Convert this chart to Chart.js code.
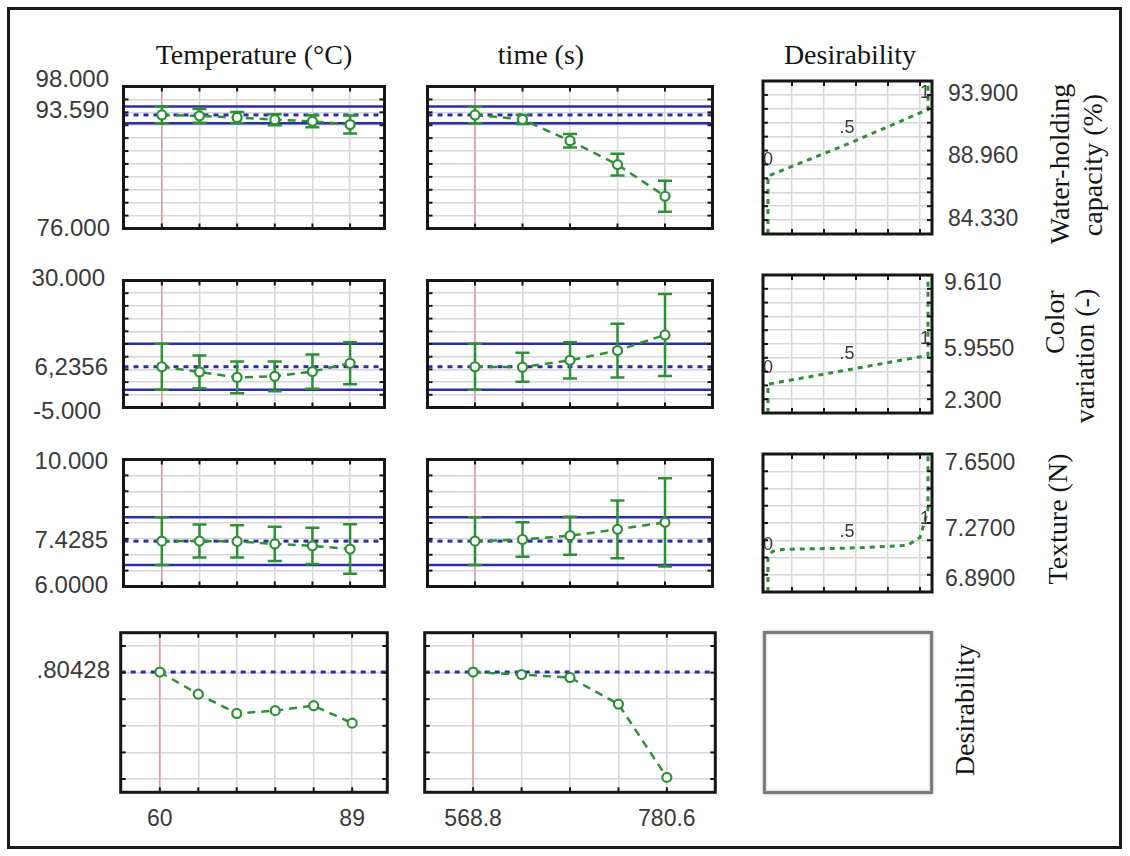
<!DOCTYPE html>
<html>
<head>
<meta charset="utf-8">
<title>Desirability profiles</title>
<script src="https://cdn.jsdelivr.net/npm/chart.js@4.4.1/dist/chart.umd.min.js"></script>
<style>
  html, body { margin: 0; padding: 0; background: #fff; }
  body { position: relative; width: 1130px; height: 856px; overflow: hidden; font-family: "Liberation Sans", Arial, sans-serif; }
  #frame { position: absolute; left: 7px; top: 7px; width: 1109px; height: 836px; border: 3px solid #1a1a1a; }
  canvas { position: absolute; }
  .t { position: absolute; white-space: nowrap; line-height: 1; }
  .tick { font-size: 24px; color: #3a3a3a; }
  .spec { font-size: 23px; color: #3a3a3a; }
  .head { font-family: "Liberation Serif", "Times New Roman", serif; font-size: 28px; color: #151515; }
  .blank { position: absolute; box-sizing: border-box; border: 3px solid #7c7c7c; box-shadow: 0 0 3px #aaa, inset 0 0 3px #bbb; }
</style>
</head>
<body>
<div id="frame"></div>
<script>
// factor levels (x categories)
const tempLevels = [60, 65.8, 71.6, 77.4, 83.2, 89];
const timeLevels = [568.8, 621.75, 674.7, 727.65, 780.6];
const tempCurrent = 60;
const timeCurrent = 568.8;
const tempTickLabels = ['60', '89'];
const timeTickLabels = ['568.8', '780.6'];
const columnTitles = ['Temperature (°C)', 'time (s)', 'Desirability'];

// water-holding capacity (%)
const whcTemp = [93.59, 93.45, 93.2, 92.86, 92.6, 92.1];
const whcTempErr = [1.3, 1.05, 0.86, 0.86, 0.93, 1.4];
const whcTime = [93.59, 92.9, 89.6, 85.9, 81.0];
const whcTimeErr = [1.3, 0.7, 1.05, 1.7, 2.4];
const whcPred = 93.59;
const whcCI = [92.29, 94.89];
const whcRange = [76, 98];
const whcAxisLabels = ['98.000', '93.590', '76.000'];
const whcSpec = [84.33, 88.96, 93.9];
const whcSpecLabels = ['93.900', '88.960', '84.330'];
const whcDesD = [0, 0, 0.5, 1, 1];
const whcDesV = [76, 84.33, 88.96, 93.9, 98];

// color variation (-)
const colTemp = [6.2356, 4.8, 3.3, 3.6, 4.9, 7.2];
const colTempErr = [6.34, 4.5, 4.4, 4.1, 4.7, 5.8];
const colTime = [6.2356, 6.1, 8.0, 10.7, 15.0];
const colTimeErr = [6.34, 4.0, 5.0, 7.4, 11.3];
const colPred = 6.2356;
const colCI = [-0.1, 12.58];
const colRange = [-5, 30];
const colAxisLabels = ['30.000', '6,2356', '-5.000'];
const colSpec = [2.3, 5.955, 9.61];
const colSpecLabels = ['9.610', '5.9550', '2.300'];
const colDesD = [0, 0, 0.5, 1, 1];
const colDesV = [-5, 2.3, 5.955, 9.61, 30];

// texture (N)
const texTemp = [7.4285, 7.43, 7.42, 7.34, 7.28, 7.18];
const texTempErr = [0.75, 0.52, 0.51, 0.54, 0.57, 0.78];
const texTime = [7.4285, 7.48, 7.6, 7.8, 8.02];
const texTimeErr = [0.75, 0.54, 0.6, 0.91, 1.39];
const texPred = 7.4285;
const texCI = [6.675, 8.18];
const texRange = [6, 10];
const texAxisLabels = ['10.000', '7.4285', '6.0000'];
const texSpec = [6.89, 7.27, 7.65];
const texSpecLabels = ['7.6500', '7.2700', '6.8900'];
const texDesD = [0, 0, 0.03, 0.1, 0.5, 0.87, 0.95, 0.98, 1, 1];
const texDesV = [6, 7.05, 7.18, 7.24, 7.27, 7.35, 7.58, 8.05, 8.4, 10];

// overall desirability
const desTemp = [0.80428, 0.638, 0.493, 0.514, 0.551, 0.42];
const desTime = [0.80428, 0.785, 0.763, 0.563, 0.012];
const desPred = 0.80428;
const desRange = [-0.1, 1.1];
const desGrid = [0, 0.2, 0.4, 0.6, 0.8, 1];
const desAxisLabels = ['.80428'];
const desMarks = ['0', '.5', '1'];

// ---- layout & style ----
const GREEN = '#2f8f37', BLUE = '#2d2da6', RED = '#e48c8c', GRID = '#d6d6dc', INK = '#161616';
const cols = [{ x0: 118, x1: 390 }, { x0: 422, x1: 718 }, { x0: 763, x1: 932 }];
const rows = [{ y0: 81, y1: 234 }, { y0: 275, y1: 413 }, { y0: 454, y1: 592 }, { y0: 630, y1: 795 }];
const PAD = 4;

const tempAxis = { min: 54.1, max: 94.3, grid: tempLevels };
const timeAxis = { min: 515.85, max: 833.55, grid: timeLevels };
const dAxis = { min: -0.031, max: 1.025, grid: [0.15, 0.35, 0.55, 0.75, 0.95] };

function stepGrid(r, step) {
  const out = [];
  for (let v = r[0]; v <= r[1] + 1e-9; v += step) out.push(+v.toFixed(4));
  return out;
}
const yAxes = [
  { min: whcRange[0], max: whcRange[1], grid: stepGrid(whcRange, 2) },
  { min: colRange[0], max: colRange[1], grid: stepGrid(colRange, 3.5) },
  { min: texRange[0], max: texRange[1], grid: stepGrid(texRange, 0.5) },
  { min: desRange[0], max: desRange[1], grid: desGrid }
];

const framePlugin = {
  id: 'frame',
  afterDraw(chart) {
    const { ctx, chartArea: a, scales: { x, y } } = chart;
    ctx.save();
    ctx.fillStyle = INK;
    x.ticks.forEach(t => {
      const p = x.getPixelForValue(t.value);
      ctx.fillRect(p - 1, a.top, 2, 5);
      ctx.fillRect(p - 1, a.bottom - 5, 2, 5);
    });
    y.ticks.forEach(t => {
      const p = y.getPixelForValue(t.value);
      ctx.fillRect(a.left, p - 1, 5, 2);
      ctx.fillRect(a.right - 5, p - 1, 5, 2);
    });
    ctx.strokeStyle = INK;
    ctx.lineWidth = 3;
    ctx.strokeRect(a.left, a.top, a.right - a.left, a.bottom - a.top);
    ctx.restore();
  }
};

// "0", ".5", "1" marks on the desirability functions
const marksPlugin = {
  id: 'marks',
  afterDatasetsDraw(chart, args, opts) {
    if (!opts.items) return;
    const { ctx, chartArea: a, scales: { x, y } } = chart;
    ctx.save();
    ctx.beginPath();
    ctx.rect(a.left, a.top, a.right - a.left, a.bottom - a.top);
    ctx.clip();
    ctx.font = '18px "Liberation Sans", Arial, sans-serif';
    ctx.fillStyle = '#3a3a3a';
    ctx.textAlign = 'center';
    ctx.textBaseline = 'middle';
    opts.items.forEach(it => {
      ctx.fillText(it.text, x.getPixelForValue(it.x) + it.dx, y.getPixelForValue(it.y) - 16);
    });
    ctx.restore();
  }
};

function axisOpts(ax) {
  return {
    type: 'linear', min: ax.min, max: ax.max,
    afterBuildTicks: s => { s.ticks = ax.grid.map(v => ({ value: v })); },
    ticks: { display: false },
    grid: { color: GRID, lineWidth: 1.5, drawTicks: false },
    border: { display: false }
  };
}

function panel(col, row, xAx, datasets, marks) {
  const c = cols[col], r = rows[row];
  const w = c.x1 - c.x0 + 2 * PAD, h = r.y1 - r.y0 + 2 * PAD;
  const cv = document.createElement('canvas');
  cv.width = w; cv.height = h;
  cv.style.left = (c.x0 - PAD) + 'px';
  cv.style.top = (r.y0 - PAD) + 'px';
  cv.style.width = w + 'px';
  cv.style.height = h + 'px';
  document.body.appendChild(cv);
  return new Chart(cv, {
    type: 'line',
    data: { datasets },
    options: {
      responsive: false, animation: false, events: [],
      layout: { padding: PAD },
      plugins: { legend: { display: false }, tooltip: { enabled: false }, marks: { items: marks } },
      scales: { x: axisOpts(xAx), y: axisOpts(yAxes[row]) }
    },
    plugins: [framePlugin, marksPlugin]
  });
}

function profileSets(levels, vals, errs, pred, ci, cur, row, xAx) {
  const yr = yAxes[row];
  const sets = [{
    data: levels.map((x, i) => ({ x, y: vals[i] })),
    borderColor: GREEN, borderWidth: 2.5, borderDash: [8, 6],
    pointStyle: 'circle', pointRadius: 4.5, pointBorderWidth: 2.2,
    pointBackgroundColor: '#fff', pointBorderColor: GREEN
  }];
  if (errs) levels.forEach((x, i) => sets.push({
    data: [{ x, y: vals[i] - errs[i] }, { x, y: vals[i] + errs[i] }],
    borderColor: GREEN, borderWidth: 2.5,
    pointStyle: 'line', pointRadius: 7, pointBorderWidth: 2.5, pointBorderColor: GREEN
  }));
  sets.push({ data: [{ x: xAx.min, y: pred }, { x: xAx.max, y: pred }], borderColor: BLUE, borderWidth: 3, borderDash: [5, 5], pointRadius: 0 });
  if (ci) ci.forEach(v => sets.push({ data: [{ x: xAx.min, y: v }, { x: xAx.max, y: v }], borderColor: BLUE, borderWidth: 2.5, pointRadius: 0 }));
  sets.push({ data: [{ x: cur, y: yr.min }, { x: cur, y: yr.max }], borderColor: RED, borderWidth: 1.3, pointRadius: 0 });
  return sets;
}

function desSets(dVals, vVals) {
  return [{
    data: dVals.map((d, i) => ({ x: d, y: vVals[i] })),
    borderColor: GREEN, borderWidth: 3, borderDash: [5, 5], pointRadius: 0
  }];
}
function desMarkItems(spec) {
  return [
    { text: desMarks[0], x: 0, y: spec[0], dx: 0 },
    { text: desMarks[1], x: 0.5, y: spec[1], dx: -1 },
    { text: desMarks[2], x: 1, y: spec[2], dx: -3 }
  ];
}

const responses = [
  { temp: whcTemp, tErr: whcTempErr, time: whcTime, sErr: whcTimeErr, pred: whcPred, ci: whcCI, d: whcDesD, v: whcDesV, spec: whcSpec },
  { temp: colTemp, tErr: colTempErr, time: colTime, sErr: colTimeErr, pred: colPred, ci: colCI, d: colDesD, v: colDesV, spec: colSpec },
  { temp: texTemp, tErr: texTempErr, time: texTime, sErr: texTimeErr, pred: texPred, ci: texCI, d: texDesD, v: texDesV, spec: texSpec }
];

const bottomCharts = [];
responses.forEach((r, row) => {
  panel(0, row, tempAxis, profileSets(tempLevels, r.temp, r.tErr, r.pred, r.ci, tempCurrent, row, tempAxis));
  panel(1, row, timeAxis, profileSets(timeLevels, r.time, r.sErr, r.pred, r.ci, timeCurrent, row, timeAxis));
  panel(2, row, dAxis, desSets(r.d, r.v), desMarkItems(r.spec));
});
bottomCharts.push(panel(0, 3, tempAxis, profileSets(tempLevels, desTemp, null, desPred, null, tempCurrent, 3, tempAxis)));
bottomCharts.push(panel(1, 3, timeAxis, profileSets(timeLevels, desTime, null, desPred, null, timeCurrent, 3, timeAxis)));

// empty box bottom right
const blank = document.createElement('div');
blank.className = 'blank';
Object.assign(blank.style, { left: '763px', top: '631px', width: '170px', height: '163px' });
document.body.appendChild(blank);

// ---- text ----
function addText(cls, text, x, y, anchor, rotate) {
  const el = document.createElement('div');
  el.className = 't ' + cls;
  el.textContent = text;
  el.style.left = x + 'px';
  el.style.top = y + 'px';
  const tx = anchor === 'right' ? '-100%' : anchor === 'left' ? '0' : '-50%';
  el.style.transform = 'translate(' + tx + ',-50%)' + (rotate ? ' rotate(-90deg)' : '');
  document.body.appendChild(el);
}

[254, 541, 850].forEach((x, i) => addText('head', columnTitles[i], x, 55, 'center'));

const leftLabelPos = [
  [[109, 79], [109, 110], [110, 228]],
  [[105, 278], [108, 367], [101, 411]],
  [[108, 461], [108, 540], [108, 585]],
  [[110, 670]]
];
[whcAxisLabels, colAxisLabels, texAxisLabels, desAxisLabels].forEach((labels, row) => {
  labels.forEach((s, i) => addText('tick', s, leftLabelPos[row][i][0], leftLabelPos[row][i][1], 'right'));
});

const specPos = [
  [948, [93, 155, 218]],
  [944, [282, 348, 400]],
  [945, [462, 528, 578]]
];
[whcSpecLabels, colSpecLabels, texSpecLabels].forEach((labels, row) => {
  labels.forEach((s, i) => addText('spec', s, specPos[row][0], specPos[row][1][i], 'left'));
});

// x tick labels under the bottom row, placed by the chart scales
const xLabelSets = [[tempLevels, tempTickLabels], [timeLevels, timeTickLabels]];
bottomCharts.forEach((ch, i) => {
  const sx = ch.scales.x;
  const levels = xLabelSets[i][0];
  const labels = xLabelSets[i][1];
  const ends = [levels[0], levels[levels.length - 1]];
  const left = cols[i].x0 - PAD;
  ends.forEach((v, k) => addText('spec', labels[k], left + sx.getPixelForValue(v), 818, 'center'));
});

// response titles on the right
[
  ['Water-holding', 1060, 164], ['capacity (%)', 1093, 165],
  ['Color', 1055, 322], ['variation (-)', 1085, 356],
  ['Texture (N)', 1058, 519],
  ['Desirability', 965, 710]
].forEach(t => addText('head', t[0], t[1], t[2], 'center', true));
</script>
</body>
</html>
